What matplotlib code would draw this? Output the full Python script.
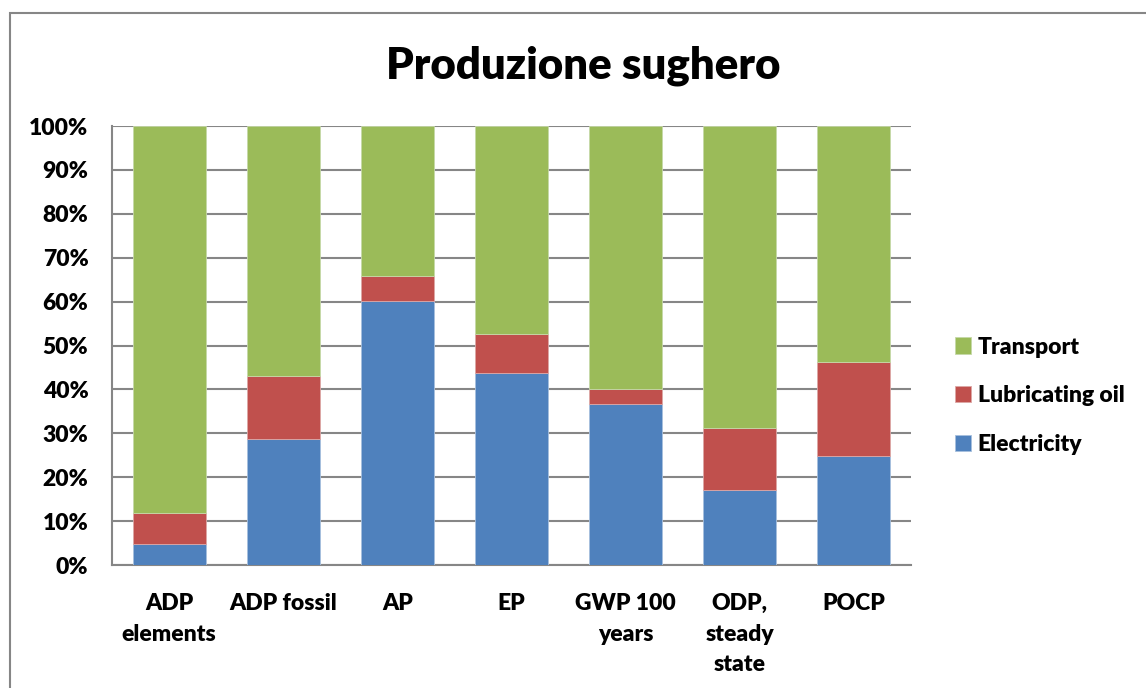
import matplotlib.pyplot as plt
import numpy as np
from matplotlib.patches import Rectangle

categories = ['ADP\nelements', 'ADP fossil', 'AP', 'EP', 'GWP 100\nyears',
              'ODP,\nsteady\nstate', 'POCP']
electricity = [4.8, 28.7, 60.2, 43.8, 36.7, 17.0, 24.9]
lubricating_oil = [7.1, 14.4, 5.6, 8.9, 3.5, 14.3, 21.3]
transport = [100 - e - l for e, l in zip(electricity, lubricating_oil)]

c_elec = '#4F81BD'
c_lub = '#C0504D'
c_trans = '#9BBB59'

plt.rcParams['font.family'] = ['Lato', 'DejaVu Sans']
plt.rcParams['font.weight'] = 'heavy'
fs = 16.5

fig = plt.figure(figsize=(11.46, 6.88), dpi=100)
ax = fig.add_axes([112 / 1146, 1 - 565 / 688, 799 / 1146, 439 / 688])

# outer chart border
fig.patches.append(Rectangle((10 / 1146, -0.01), 1.2, 1 - 13 / 688 + 0.01,
                             transform=fig.transFigure, fill=False,
                             edgecolor='#868686', linewidth=1.5))

x = np.arange(len(categories))
w = 0.64
ax.bar(x, electricity, w, color=c_elec, label='Electricity', zorder=3,
       edgecolor='#A7C0DE', linewidth=0.6)
ax.bar(x, lubricating_oil, w, bottom=electricity, color=c_lub,
       label='Lubricating oil', zorder=3, edgecolor='#DCA7A6', linewidth=0.6)
bottom2 = [e + l for e, l in zip(electricity, lubricating_oil)]
ax.bar(x, transport, w, bottom=bottom2, color=c_trans, label='Transport',
       zorder=3, edgecolor='#C6D9A8', linewidth=0.6)

ax.set_xlim(-0.5, len(categories) - 0.5)
ax.set_ylim(0, 100)
ax.set_yticks(np.arange(0, 101, 10))
ax.set_yticklabels([f'{v}%' for v in range(0, 101, 10)])
ax.yaxis.grid(True, color='#868686', linewidth=1.5, zorder=0)
ax.set_axisbelow(True)
ax.set_xticks(x)
ax.set_xticklabels(categories, linespacing=1.58, va='top')
ax.tick_params(axis='both', length=0, labelsize=fs)
ax.tick_params(axis='x', pad=20)
ax.tick_params(axis='y', pad=17)
for lab in ax.get_yticklabels() + ax.get_xticklabels():
    lab.set_fontweight('heavy')

for s in ['top', 'right']:
    ax.spines[s].set_visible(False)
ax.spines['left'].set_color('#868686')
ax.spines['bottom'].set_color('#868686')
ax.spines['left'].set_linewidth(1.5)
ax.spines['bottom'].set_linewidth(1.5)

handles, labels = ax.get_legend_handles_labels()
leg = fig.legend(handles[::-1], labels[::-1], loc='center left',
                 bbox_to_anchor=(934 / 1146, 1 - 396 / 688), frameon=False,
                 prop={'weight': 'heavy', 'size': fs}, handlelength=0.7,
                 handleheight=0.7, handletextpad=0.3, labelspacing=1.22)

fig.text(583 / 1146, 1 - 66 / 688, 'Produzione sughero', ha='center',
         va='center', fontsize=31.5, fontweight='heavy')

fig.savefig('out.png', dpi=100)
